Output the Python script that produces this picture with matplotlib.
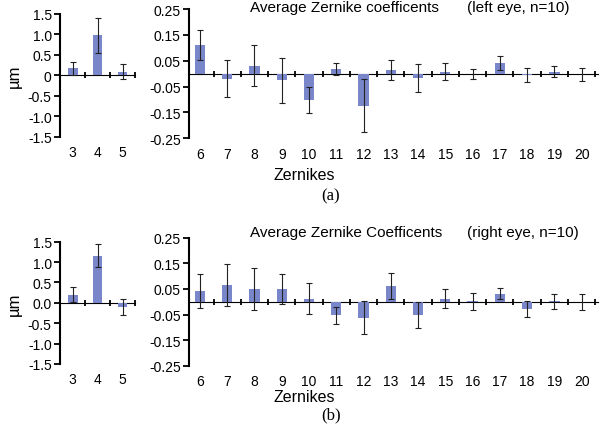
import numpy as np
import matplotlib.pyplot as plt

plt.rcParams['font.family'] = ['Liberation Sans', 'DejaVu Sans']

# low order terms (3-5)
low_z = [3, 4, 5]
left_low = [0.17, 0.97, 0.09]
left_low_err = [0.16, 0.42, 0.19]
right_low = [0.20, 1.16, -0.10]
right_low_err = [0.19, 0.28, 0.20]

# higher order terms (6-20)
high_z = list(range(6, 21))
left_high = [0.110, -0.019, 0.031, -0.026, -0.103, 0.018, -0.124, 0.015,
             -0.018, 0.008, -0.001, 0.041, -0.004, 0.008, -0.003]
left_high_err = [0.059, 0.072, 0.078, 0.088, 0.050, 0.025, 0.103, 0.039,
                 0.054, 0.032, 0.019, 0.026, 0.027, 0.020, 0.026]
right_high = [0.042, 0.066, 0.049, 0.049, 0.012, -0.053, -0.062, 0.061,
              -0.051, 0.012, 0.002, 0.031, -0.030, 0.001, 0.000]
right_high_err = [0.068, 0.083, 0.082, 0.058, 0.060, 0.034, 0.064, 0.050,
                  0.050, 0.036, 0.033, 0.022, 0.031, 0.029, 0.031]

low_yticks = [-1.5, -1.0, -0.5, 0, 0.5, 1.0, 1.5]
high_yticks = [-0.25, -0.15, -0.05, 0.05, 0.15, 0.25]

bar_color = '#7986ca'
W, H = 600, 431


def box(x0, x1, ytop, ybot):
    return [x0 / W, 1 - ybot / H, (x1 - x0) / W, (ybot - ytop) / H]


def style(ax, cats):
    for s in ['top', 'right', 'bottom']:
        ax.spines[s].set_visible(False)
    ax.spines['left'].set_linewidth(1.5)
    ax.tick_params(axis='y', direction='out', length=4, width=1.3, labelsize=10, pad=2)
    ax.tick_params(axis='x', length=0, labelsize=10, pad=6)
    ax.set_xticks(cats)
    # zero line with category separators
    sec = ax.secondary_xaxis(0.5)
    sec.spines['bottom'].set_linewidth(1.5)
    seps = [c + 0.5 for c in cats]
    sec.set_xticks(seps, labels=[''] * len(seps))
    sec.tick_params(direction='inout', length=5, width=1.3)


def low_panel(ax, vals, errs, zero_label):
    ax.bar(low_z, vals, width=0.4, color=bar_color, yerr=errs,
           error_kw=dict(ecolor='#222222', elinewidth=0.8, capsize=2, capthick=0.8))
    ax.set_xlim(2.5, 5.5)
    ax.set_ylim(-1.5, 1.5)
    ax.set_yticks(low_yticks)
    ax.set_yticklabels(['-1.5', '-1.0', '-0.5', zero_label, '0.5', '1.0', '1.5'])
    style(ax, low_z)
    ax.set_ylabel('µm', fontsize=12, labelpad=4)


def high_panel(ax, vals, errs, title, note, ty):
    ax.bar(high_z, vals, width=0.38, color=bar_color, yerr=errs,
           error_kw=dict(ecolor='#222222', elinewidth=0.8, capsize=2, capthick=0.8))
    ax.set_xlim(5.6, 20.6)
    ax.set_ylim(-0.25, 0.25)
    ax.set_yticks(high_yticks)
    ax.set_yticklabels(['%.2f' % v for v in high_yticks])
    style(ax, high_z)
    ax.text(0.15, ty, title, transform=ax.transAxes, fontsize=11, va='center')
    ax.text(0.68, ty, note, transform=ax.transAxes, fontsize=11, va='center')


fig = plt.figure(figsize=(6, 4.31), dpi=100)

ax1 = fig.add_axes(box(60, 135, 14.7, 138))
low_panel(ax1, left_low, left_low_err, '0')
ax2 = fig.add_axes(box(189, 598, 10, 139.3))
high_panel(ax2, left_high, left_high_err, 'Average Zernike coefficents',
           '(left eye, n=10)', 1.015)

ax3 = fig.add_axes(box(60, 135, 242.7, 365))
low_panel(ax3, right_low, right_low_err, '0.0')
ax4 = fig.add_axes(box(189, 598, 238.7, 366.7))
high_panel(ax4, right_high, right_high_err, 'Average Zernike Coefficents',
           '(right eye, n=10)', 1.045)

fig.text(304 / W, 1 - 175 / H, 'Zernikes', ha='center', va='center', fontsize=11.5)
fig.text(331 / W, 1 - 196 / H, '(a)', ha='center', va='center', fontsize=12,
         family='Liberation Serif')
fig.text(304 / W, 1 - 398 / H, 'Zernikes', ha='center', va='center', fontsize=11.5)
fig.text(331 / W, 1 - 415 / H, '(b)', ha='center', va='center', fontsize=12,
         family='Liberation Serif')

fig.savefig('out.png', dpi=100)
